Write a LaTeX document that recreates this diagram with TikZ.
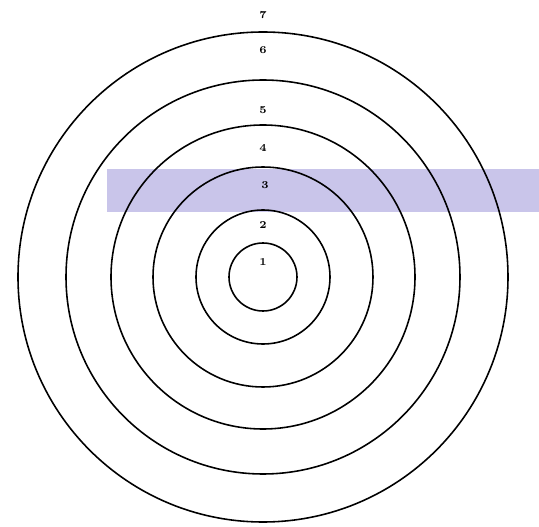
\documentclass[tikz,border=0pt]{standalone}
\usepackage{tikz}
\usetikzlibrary{positioning}
\definecolor{bandpurple}{HTML}{C9C5EA}

\begin{document}
\begin{tikzpicture}[x=0.02cm,y=-0.02cm,ring/.style={draw,line width=0.9pt},every node/.style={font=\fontsize{6}{7}\selectfont\bfseries,inner sep=0pt}]
\useasboundingbox (0,0) rectangle (539,527);
\fill[bandpurple] (107,169) rectangle (539,212);
\coordinate (c) at (263,277);
\foreach \r in {34,67,110,152,197,245} \draw[ring] (c) circle[radius=\r];
\node (l1) at (263,262) {1};
\node (l2) at (263,225) {2};
\node (l3) at (265,185) {3};
\node (l4) at (263,148) {4};
\node (l5) at (263,110) {5};
\node (l6) at (263,50) {6};
\node (l7) at (263,15) {7};
\end{tikzpicture}
\end{document}
